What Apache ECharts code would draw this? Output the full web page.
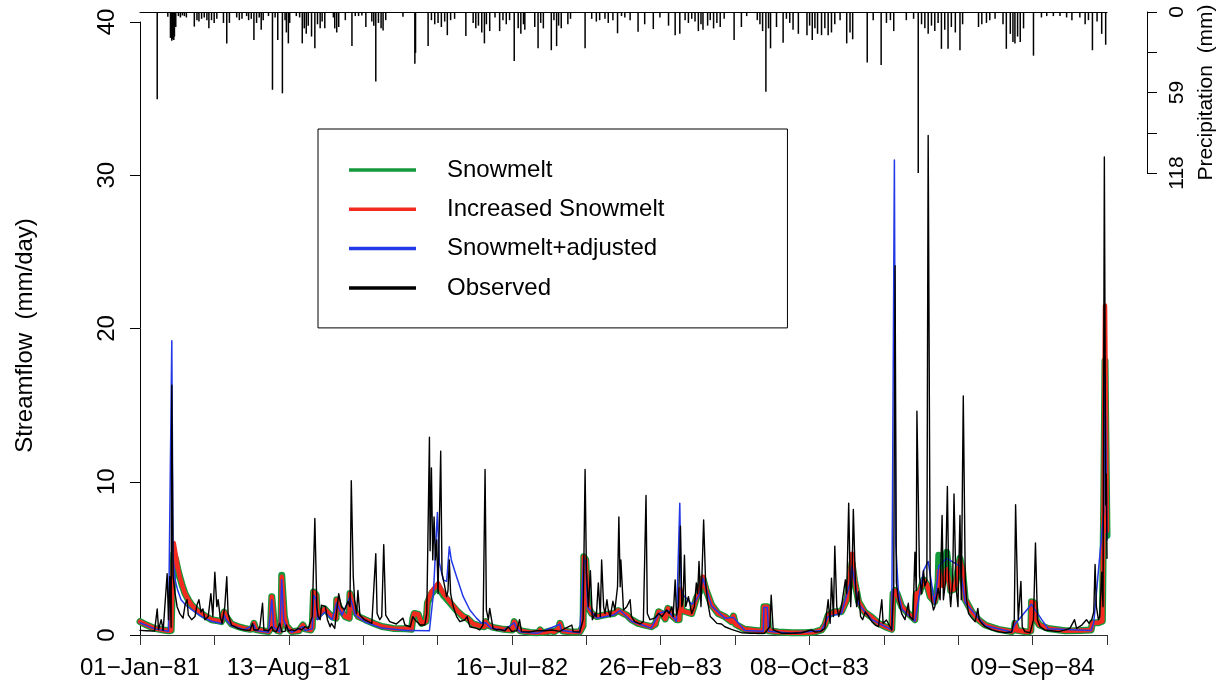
<!DOCTYPE html>
<html>
<head>
<meta charset="utf-8">
<script src="https://cdn.jsdelivr.net/npm/echarts@6/dist/echarts.min.js"></script>
<style>
  html, body { margin: 0; padding: 0; background: #fff; }
  #chart { width: 1225px; height: 687px; }
</style>
</head>
<body>
<div id="chart"></div>
<script>
// Daily streamflow, 1981-1984. x values are days since 01-Jan-1981 (0 .. 1460).
const tickLabels = ['01\u2212Jan\u221281', '', '13\u2212Aug\u221281', '', '', '16\u2212Jul\u221282', '',
  '26\u2212Feb\u221283', '', '08\u2212Oct\u221283', '', '', '09\u2212Sep\u221284', ''];

// Daily precipitation (mm), [day, mm]
const precipitation = [
  [26, 64], [42, 3.4], [46, 19], [48, 21], [49, 20], [51, 20.5], [52, 18], [54, 11], [58, 3], [61, 4],
  [64, 2.5], [67, 3], [70, 4], [82, 10.7], [86, 6], [89, 7], [93, 5], [97, 4], [101, 6], [104, 12],
  [108, 6], [112, 8], [116, 5], [126, 8], [131, 23], [135, 8], [146, 4], [150, 6], [154, 5], [161, 3],
  [164, 6], [168, 5], [172, 20.5], [176, 8], [180, 4], [183, 13], [186, 6], [194, 3], [200, 57], [204, 4],
  [208, 20.5], [215, 59.6], [219, 6], [221, 15], [224, 23], [226, 8], [236, 3], [241, 4], [245, 23], [248, 12],
  [251, 16], [254, 10], [259, 18], [264, 26.6], [268, 9], [272, 12], [275, 7], [279, 12], [292, 4], [294, 12],
  [297, 15], [300, 11], [310, 6], [320, 25], [325, 3], [330, 3], [335, 2.5], [341, 11], [350, 7], [353, 10],
  [356, 51], [360, 8], [364, 12], [367, 13.5], [371, 6], [397, 3.5], [415, 38], [416, 30], [435, 25], [440, 6],
  [445, 9], [450, 8], [455, 11], [460, 7], [464, 17], [469, 6], [475, 5], [492, 17.6], [503, 8], [507, 12],
  [511, 10], [516, 15], [520, 23], [523, 9], [528, 14], [536, 4], [543, 14], [548, 6], [553, 9], [558, 6],
  [565, 36], [571, 12], [575, 16], [579, 9], [581, 13], [596, 11], [601, 26.6], [605, 8], [609, 12], [621, 28],
  [625, 6], [629, 25], [632, 10], [636, 12], [646, 9], [650, 5], [672, 26.6], [682, 5], [689, 7], [694, 6],
  [702, 5], [707, 8], [714, 6], [721, 15.6], [727, 3], [732, 4], [740, 6], [752, 14.4], [762, 9], [775, 12.5],
  [785, 4], [798, 10], [808, 17], [815, 16], [823, 6], [828, 8], [833, 5], [838, 7], [843, 14], [847, 9],
  [850, 13], [857, 10], [861, 6], [866, 12], [871, 8], [876, 11], [882, 5], [897, 20.5], [908, 11], [916, 3],
  [932, 6], [936, 9], [940, 14], [945, 58.4], [949, 12], [952, 26.6], [961, 11], [971, 22.5], [976, 5], [981, 8],
  [986, 13], [994, 16], [1007, 17], [1011, 10], [1015, 20.5], [1019, 12], [1023, 16], [1029, 17], [1034, 12], [1039, 17],
  [1044, 15], [1049, 9], [1057, 6], [1067, 23], [1072, 15], [1076, 20], [1098, 37], [1107, 6], [1119, 38.8], [1127, 8],
  [1133, 6], [1138, 14], [1157, 6], [1168, 5], [1175, 118], [1180, 9], [1185, 12], [1190, 16], [1195, 10], [1200, 14],
  [1205, 8], [1210, 27], [1215, 13], [1220, 27], [1225, 11], [1231, 15], [1238, 28], [1242, 9], [1266, 11], [1271, 9],
  [1278, 8], [1283, 6], [1291, 5], [1303, 9], [1308, 27], [1314, 16], [1318, 22], [1321, 23], [1325, 18], [1329, 22],
  [1334, 12], [1349, 32], [1361, 4], [1369, 3], [1379, 3], [1389, 3], [1399, 4], [1407, 6], [1419, 4], [1427, 9],
  [1432, 6], [1438, 28], [1445, 7], [1452, 16], [1458, 24]
];

// Simulated streamflow (mm/day), [day, value]
const snowmelt = [
  [0, 0.87], [10, 0.65], [22, 0.43], [35, 0.32], [43, 0.28], [47, 0.3], [49, 3.3], [51, 5.3], [54, 4.9], [57, 4.3],
  [60, 3.8], [64, 3.2], [68, 2.7], [73, 2.3], [78, 1.96], [85, 1.65], [93, 1.4], [100, 1.2], [108, 1.0], [115, 0.95],
  [123, 0.87], [126, 0.9], [127, 1.5], [130, 1.2], [133, 1.1], [138, 0.72], [148, 0.55], [158, 0.43], [166, 0.37], [170, 0.4],
  [172, 0.76], [175, 0.35], [185, 0.28], [194, 0.22], [197, 0.4], [199, 2.5], [201, 2.4], [203, 0.6], [207, 0.3], [211, 0.25],
  [213, 1.0], [214, 3.9], [216, 3.8], [218, 1.2], [221, 0.6], [229, 0.22], [240, 0.28], [246, 0.65], [249, 0.4], [258, 0.33],
  [260, 0.5], [262, 2.8], [266, 2.6], [268, 1.2], [271, 1.4], [279, 1.7], [285, 1.4], [290, 1.2], [296, 1.1], [297, 2.3],
  [300, 1.9], [305, 1.5], [310, 1.2], [316, 1.1], [317, 2.7], [321, 2.0], [325, 1.5], [330, 1.2], [340, 1.0], [355, 0.72],
  [365, 0.55], [382, 0.43], [402, 0.4], [410, 0.37], [412, 1.1], [414, 1.4], [420, 1.35], [425, 0.76], [432, 0.9], [434, 2.1],
  [440, 2.7], [450, 3.2], [458, 2.6], [468, 2.1], [478, 1.6], [488, 1.2], [494, 1.1], [503, 0.72], [513, 0.6], [520, 0.54],
  [522, 0.87], [525, 0.65], [533, 0.5], [549, 0.37], [562, 0.33], [565, 0.87], [568, 0.6], [574, 0.28], [589, 0.17], [601, 0.15],
  [604, 0.33], [606, 0.17], [614, 0.2], [621, 0.28], [625, 0.2], [632, 0.4], [634, 0.76], [636, 0.5], [638, 0.26], [650, 0.2],
  [664, 0.2], [669, 0.6], [670, 5.1], [673, 4.9], [676, 2.0], [678, 1.7], [682, 1.4], [690, 1.2], [700, 1.3], [706, 1.35],
  [715, 1.4], [722, 1.6], [725, 1.7], [730, 1.4], [735, 1.3], [742, 1.0], [752, 0.76], [762, 0.65], [772, 0.54], [778, 0.7],
  [783, 1.52], [788, 1.4], [793, 1.05], [797, 1.74], [802, 1.3], [810, 1.0], [814, 1.0], [816, 2.8], [818, 1.6], [825, 1.5],
  [833, 1.4], [840, 2.4], [845, 2.8], [850, 3.7], [855, 2.9], [863, 1.96], [873, 1.4], [883, 1.2], [886, 1.3], [889, 1.0],
  [893, 0.87], [896, 1.24], [899, 0.7], [913, 0.37], [933, 0.28], [941, 0.28], [942, 1.85], [947, 1.85], [949, 0.28], [964, 0.2],
  [984, 0.15], [1004, 0.15], [1019, 0.2], [1029, 0.33], [1034, 0.65], [1039, 1.3], [1049, 1.52], [1059, 1.52], [1067, 2.3], [1072, 3.6],
  [1075, 4.7], [1079, 3.5], [1085, 2.17], [1094, 1.5], [1105, 1.15], [1115, 0.76], [1125, 0.54], [1135, 0.37], [1137, 2.7], [1140, 2.9],
  [1143, 2.7], [1150, 1.85], [1160, 1.4], [1170, 1.0], [1172, 2.7], [1177, 2.8], [1183, 3.6], [1188, 3.3], [1193, 2.5], [1200, 2.17],
  [1205, 3.4], [1206, 5.2], [1212, 3.4], [1218, 5.4], [1224, 2.9], [1230, 3.0], [1238, 5.0], [1242, 4.2], [1246, 2.3], [1256, 1.5],
  [1266, 1.0], [1276, 0.65], [1296, 0.37], [1316, 0.22], [1320, 0.35], [1321, 0.76], [1324, 0.3], [1340, 0.2], [1345, 0.25], [1346, 2.17],
  [1350, 2.1], [1353, 1.0], [1358, 0.65], [1371, 0.43], [1397, 0.28], [1420, 0.3], [1436, 0.33], [1438, 0.8], [1440, 0.9], [1447, 0.8],
  [1453, 0.9], [1455, 8.5], [1457, 17.9], [1460, 6.5]
];

const increasedSnowmelt = [
  [0, 0.87], [10, 0.65], [22, 0.43], [35, 0.32], [43, 0.28], [47, 0.3], [49, 3.5], [51, 6.0], [54, 5.2], [57, 4.4],
  [60, 3.8], [64, 3.2], [68, 2.7], [73, 2.3], [78, 1.96], [85, 1.65], [93, 1.4], [100, 1.2], [108, 1.0], [115, 0.95],
  [123, 0.87], [126, 0.9], [127, 1.5], [130, 1.2], [133, 1.1], [138, 0.72], [148, 0.55], [158, 0.43], [166, 0.37], [170, 0.4],
  [172, 0.76], [175, 0.35], [185, 0.28], [194, 0.22], [197, 0.4], [199, 2.5], [201, 2.4], [203, 0.6], [207, 0.3], [211, 0.25],
  [213, 1.0], [214, 3.8], [216, 3.7], [218, 1.2], [221, 0.6], [229, 0.22], [240, 0.28], [246, 0.65], [249, 0.4], [258, 0.33],
  [260, 0.5], [262, 2.8], [266, 2.6], [268, 1.2], [271, 1.4], [279, 1.7], [285, 1.4], [290, 1.2], [296, 1.1], [297, 2.3],
  [300, 1.9], [305, 1.5], [310, 1.2], [316, 1.1], [317, 2.7], [321, 2.0], [325, 1.5], [330, 1.2], [340, 1.0], [355, 0.72],
  [365, 0.55], [382, 0.43], [402, 0.4], [410, 0.37], [412, 1.1], [414, 1.41], [420, 1.35], [425, 0.76], [432, 0.9], [434, 2.17],
  [440, 2.83], [450, 3.37], [458, 2.7], [468, 2.17], [478, 1.63], [488, 1.2], [494, 1.1], [503, 0.72], [513, 0.6], [520, 0.54],
  [522, 0.87], [525, 0.65], [533, 0.5], [549, 0.37], [562, 0.33], [565, 0.87], [568, 0.6], [574, 0.28], [589, 0.17], [601, 0.15],
  [604, 0.33], [606, 0.17], [614, 0.2], [621, 0.28], [625, 0.2], [632, 0.4], [634, 0.76], [636, 0.5], [638, 0.26], [650, 0.2],
  [664, 0.2], [669, 0.6], [670, 5.1], [673, 4.9], [676, 2.0], [678, 1.7], [682, 1.4], [690, 1.2], [700, 1.3], [706, 1.35],
  [715, 1.4], [722, 1.6], [725, 1.7], [730, 1.4], [735, 1.3], [742, 1.0], [752, 0.76], [762, 0.65], [772, 0.54], [778, 0.7],
  [783, 1.52], [788, 1.4], [793, 1.05], [797, 1.74], [802, 1.3], [810, 1.0], [814, 1.0], [816, 3.0], [818, 1.6], [825, 1.5],
  [833, 1.4], [840, 2.4], [845, 2.8], [850, 3.8], [855, 2.9], [863, 1.96], [873, 1.4], [883, 1.2], [886, 1.3], [889, 1.0],
  [893, 0.87], [896, 1.24], [899, 0.7], [913, 0.37], [933, 0.28], [941, 0.28], [942, 1.85], [947, 1.85], [949, 0.28], [964, 0.2],
  [984, 0.15], [1004, 0.15], [1019, 0.2], [1029, 0.33], [1034, 0.65], [1039, 1.3], [1049, 1.52], [1059, 1.52], [1067, 2.3], [1072, 3.8],
  [1075, 5.3], [1079, 3.6], [1085, 2.17], [1094, 1.5], [1105, 1.15], [1115, 0.76], [1125, 0.54], [1135, 0.37], [1137, 2.7], [1140, 2.9],
  [1143, 2.7], [1150, 1.85], [1160, 1.4], [1170, 1.0], [1172, 2.7], [1177, 2.8], [1183, 3.6], [1188, 3.3], [1193, 2.5], [1200, 2.17],
  [1205, 3.0], [1206, 4.2], [1212, 3.2], [1218, 4.3], [1224, 2.9], [1230, 3.0], [1238, 4.9], [1242, 4.2], [1246, 2.3], [1256, 1.5],
  [1266, 1.0], [1276, 0.65], [1296, 0.37], [1316, 0.22], [1320, 0.35], [1321, 0.76], [1324, 0.3], [1340, 0.2], [1345, 0.25], [1346, 2.17],
  [1350, 2.1], [1353, 1.0], [1358, 0.65], [1371, 0.43], [1397, 0.28], [1420, 0.3], [1436, 0.33], [1438, 0.8], [1440, 0.9], [1447, 0.8],
  [1453, 0.9], [1455, 10], [1457, 21.5], [1460, 6.8]
];

const snowmeltAdjusted = [
  [0, 0.8], [22, 0.4], [43, 0.25], [46, 0.3], [48, 19.2], [50, 5.0], [53, 3.6], [57, 2.9], [62, 2.3], [68, 2.0],
  [78, 1.65], [93, 1.2], [108, 0.9], [123, 0.75], [127, 1.3], [130, 1.0], [138, 0.6], [158, 0.35], [172, 0.65], [175, 0.3],
  [194, 0.18], [199, 2.3], [202, 0.5], [211, 0.2], [214, 3.6], [217, 1.0], [221, 0.5], [229, 0.18], [246, 0.55], [249, 0.3],
  [260, 0.4], [262, 2.6], [266, 2.3], [268, 1.0], [279, 1.5], [290, 1.0], [297, 2.1], [305, 1.3], [317, 2.5], [325, 1.3],
  [340, 0.85], [365, 0.45], [402, 0.3], [412, 0.3], [437, 0.28], [443, 2.7], [449, 8.0], [452, 4.7], [458, 3.6], [463, 3.5],
  [467, 5.76], [470, 4.9], [478, 3.8], [488, 2.5], [498, 1.63], [508, 1.1], [516, 0.76], [522, 0.8], [530, 0.45], [549, 0.3],
  [565, 0.8], [568, 0.5], [574, 0.2], [601, 0.12], [634, 0.7], [636, 0.3], [664, 0.15], [670, 5.0], [673, 4.7], [676, 1.8],
  [690, 1.1], [715, 1.3], [725, 1.6], [742, 0.9], [772, 0.45], [783, 1.4], [797, 1.6], [810, 0.9], [815, 8.6], [817, 3.0],
  [820, 2.6], [825, 2.4], [833, 2.0], [840, 2.3], [845, 2.7], [850, 3.7], [863, 1.9], [883, 1.1], [896, 1.15], [913, 0.3],
  [941, 0.25], [942, 1.8], [947, 1.8], [949, 0.25], [984, 0.12], [1029, 0.3], [1039, 1.2], [1059, 1.4], [1072, 3.4], [1075, 4.5],
  [1085, 2.0], [1105, 1.0], [1135, 0.33], [1139, 31.0], [1141, 6.0], [1145, 2.8], [1150, 1.7], [1170, 0.9], [1183, 4.2], [1190, 4.8],
  [1200, 2.0], [1206, 4.5], [1218, 5.0], [1238, 4.5], [1246, 2.1], [1276, 0.6], [1316, 0.2], [1321, 0.7], [1346, 2.0], [1371, 0.4],
  [1436, 0.3], [1440, 0.8], [1455, 8], [1457, 17], [1460, 6.2]
];

// Observed streamflow (mm/day), [day, value]
const observed = [
  [0, 0.3], [10, 0.28], [22, 0.25], [26, 1.7], [28, 0.35], [32, 1.0], [35, 0.3], [41, 4.0], [43, 1.0], [45, 3.8],
  [47, 0.5], [48, 16.3], [50, 3.8], [53, 2.7], [56, 1.85], [60, 1.4], [65, 1.1], [68, 1.95], [71, 2.3], [73, 1.3],
  [78, 1.0], [83, 1.2], [86, 1.95], [89, 2.3], [92, 1.5], [95, 1.7], [98, 1.0], [103, 1.2], [107, 2.7], [110, 1.2],
  [113, 4.1], [116, 1.85], [118, 2.3], [121, 1.2], [124, 0.76], [128, 1.85], [131, 3.8], [133, 1.4], [138, 0.65], [143, 0.54],
  [148, 0.43], [153, 0.37], [158, 0.33], [166, 0.3], [170, 0.76], [172, 0.33], [178, 0.33], [181, 0.54], [185, 2.07], [187, 0.33],
  [194, 0.28], [199, 0.54], [201, 0.28], [206, 0.22], [211, 0.76], [214, 0.22], [219, 0.24], [221, 0.65], [224, 0.26], [229, 0.33],
  [234, 0.28], [239, 0.43], [244, 0.33], [249, 0.54], [254, 0.43], [260, 1.2], [264, 7.6], [267, 1.85], [269, 1.2], [272, 1.0],
  [274, 1.95], [277, 2.07], [280, 1.85], [283, 1.0], [287, 0.54], [289, 0.76], [294, 0.43], [297, 0.54], [300, 2.7], [304, 1.85],
  [309, 1.63], [314, 2.2], [317, 1.85], [319, 10.07], [322, 3.8], [324, 2.3], [327, 1.4], [329, 2.9], [332, 1.3], [334, 1.2],
  [339, 1.0], [345, 0.87], [350, 0.76], [356, 5.3], [358, 1.4], [362, 1.0], [365, 1.2], [368, 5.9], [371, 1.3], [377, 0.87],
  [387, 0.72], [397, 1.1], [400, 0.65], [408, 0.54], [412, 1.2], [415, 1.0], [423, 0.65], [430, 0.65], [433, 1.4], [437, 12.9],
  [438, 5.5], [440, 10.9], [442, 4.9], [444, 7.7], [446, 4.9], [448, 6.2], [450, 2.7], [454, 12.0], [456, 4.0], [459, 3.4],
  [463, 2.5], [465, 2.9], [467, 4.9], [469, 2.7], [473, 1.85], [478, 1.2], [483, 0.87], [490, 0.98], [494, 1.2], [498, 0.54],
  [508, 0.43], [513, 0.33], [518, 0.65], [521, 10.8], [523, 1.63], [526, 1.0], [528, 1.74], [531, 1.67], [533, 0.43], [538, 0.33],
  [543, 0.37], [551, 0.28], [556, 0.54], [561, 0.24], [569, 0.28], [573, 1.0], [576, 0.22], [589, 0.2], [599, 0.28], [611, 0.28],
  [622, 0.33], [634, 0.24], [642, 0.43], [652, 0.65], [654, 0.22], [664, 0.2], [669, 1.0], [672, 10.8], [674, 4.2], [677, 1.85],
  [680, 4.2], [683, 1.0], [687, 1.4], [689, 1.2], [692, 3.4], [695, 1.2], [697, 4.9], [700, 1.85], [702, 1.4], [705, 2.3],
  [707, 1.63], [710, 1.2], [714, 2.2], [717, 1.63], [721, 3.15], [723, 7.7], [725, 3.15], [726, 4.9], [730, 1.63], [735, 1.85],
  [740, 2.3], [742, 1.2], [747, 0.87], [755, 0.72], [760, 0.87], [764, 9.1], [766, 1.4], [770, 1.0], [777, 1.1], [783, 1.4],
  [788, 1.2], [795, 1.63], [799, 1.4], [803, 1.85], [805, 1.2], [808, 3.6], [810, 1.3], [813, 1.85], [816, 7.1], [818, 1.85],
  [820, 2.3], [822, 5.2], [824, 1.85], [828, 2.5], [831, 1.85], [833, 1.4], [837, 1.85], [840, 3.4], [842, 2.7], [844, 4.8],
  [847, 1.85], [851, 7.5], [854, 3.4], [857, 2.17], [861, 1.2], [866, 1.0], [871, 0.76], [878, 0.72], [883, 0.54], [893, 0.37],
  [908, 0.15], [923, 0.11], [943, 0.11], [951, 0.54], [953, 2.6], [956, 0.33], [969, 0.11], [984, 0.11], [999, 0.15], [1014, 0.33],
  [1019, 0.2], [1027, 0.22], [1034, 0.43], [1039, 2.3], [1042, 0.76], [1044, 3.7], [1047, 1.2], [1049, 5.8], [1052, 1.85], [1055, 1.2],
  [1059, 1.85], [1065, 3.6], [1067, 2.7], [1070, 8.6], [1073, 1.85], [1075, 3.8], [1077, 8.2], [1080, 3.6], [1082, 1.85], [1085, 2.83],
  [1088, 1.2], [1091, 1.0], [1095, 1.5], [1100, 1.2], [1105, 0.87], [1110, 0.65], [1115, 0.54], [1120, 2.3], [1122, 0.76], [1127, 0.98],
  [1131, 0.65], [1135, 0.33], [1138, 3.15], [1140, 24.1], [1142, 3.4], [1145, 2.3], [1150, 1.4], [1155, 1.0], [1160, 2.07], [1162, 1.2],
  [1167, 1.0], [1170, 5.4], [1172, 2.9], [1173, 14.6], [1177, 3.8], [1180, 2.7], [1183, 4.2], [1185, 3.2], [1188, 3.6], [1190, 32.6],
  [1193, 3.8], [1195, 2.3], [1198, 1.63], [1200, 1.85], [1205, 3.05], [1208, 2.3], [1211, 7.8], [1213, 2.3], [1216, 3.4], [1219, 9.7],
  [1221, 3.6], [1224, 1.85], [1227, 3.6], [1229, 9.2], [1232, 3.15], [1235, 1.85], [1238, 7.8], [1240, 2.3], [1243, 15.6], [1246, 3.6],
  [1248, 2.3], [1251, 1.4], [1256, 1.1], [1261, 0.87], [1265, 1.74], [1267, 1.0], [1271, 0.76], [1276, 0.54], [1286, 0.33], [1296, 0.22],
  [1306, 0.15], [1316, 0.2], [1320, 1.0], [1322, 8.5], [1324, 4.6], [1326, 1.0], [1330, 3.5], [1332, 0.54], [1336, 0.22], [1344, 0.15],
  [1349, 1.0], [1352, 6.0], [1355, 1.0], [1359, 0.54], [1366, 0.33], [1376, 0.28], [1387, 0.22], [1397, 0.33], [1404, 0.43], [1411, 1.0],
  [1414, 0.43], [1422, 0.65], [1429, 1.0], [1433, 0.76], [1437, 1.0], [1440, 1.5], [1442, 4.6], [1444, 1.85], [1447, 1.0], [1449, 1.2],
  [1452, 4.1], [1454, 1.85], [1456, 31.2], [1458, 8.5], [1459, 10.5], [1460, 5.0]
];

const FONT = '"Liberation Sans", Arial, Helvetica, sans-serif';
const DAY_MAX = 1460;
const TICK_STEP = DAY_MAX / 13;

const chart = echarts.init(document.getElementById('chart'), null, { renderer: 'canvas' });

const lineSeries = (name, data, color, width) => ({
  name, type: 'line', data, xAxisIndex: 0, yAxisIndex: 0,
  showSymbol: false, symbol: 'none', smooth: false, clip: true,
  lineStyle: { color, width, join: 'round', cap: 'round' },
  itemStyle: { color },
  emphasis: { disabled: true }, silent: true
});

chart.setOption({
  animation: false,
  backgroundColor: '#fff',
  textStyle: { fontFamily: FONT, color: '#000' },
  grid: [
    { left: 140, right: 118, top: 22, bottom: 52 },
    { left: 140, right: 118, top: 12, height: 161 }
  ],
  legend: {
    left: 318, top: 129, orient: 'vertical',
    padding: [29, 123, 28, 31],
    borderColor: '#000', borderWidth: 1,
    itemWidth: 67, itemHeight: 3.5, itemGap: 15.3,
    selectedMode: false,
    icon: 'rect',
    textStyle: { fontFamily: FONT, fontSize: 24, color: '#000', padding: [0, 0, 0, 26] },
    data: ['Snowmelt', 'Increased Snowmelt', 'Snowmelt+adjusted', 'Observed']
  },
  xAxis: [
    {
      type: 'value', gridIndex: 0, min: 0, max: DAY_MAX, interval: TICK_STEP,
      axisLine: { show: true, onZero: false, lineStyle: { color: '#333', width: 1 } },
      axisTick: { show: true, length: 10, lineStyle: { color: '#333', width: 1 } },
      axisLabel: {
        show: true, margin: 21, fontSize: 24, fontFamily: FONT, color: '#000',
        showMinLabel: true, showMaxLabel: true,
        formatter: v => tickLabels[Math.round(v / TICK_STEP)] || ''
      },
      splitLine: { show: false }
    },
    {
      type: 'value', gridIndex: 1, min: 0, max: DAY_MAX, position: 'top',
      axisLine: { show: true, onZero: false, lineStyle: { color: '#000', width: 1 } },
      axisTick: { show: false }, axisLabel: { show: false }, splitLine: { show: false }
    }
  ],
  yAxis: [
    {
      type: 'value', gridIndex: 0, min: 0, max: 40, interval: 10,
      name: 'Streamflow  (mm/day)', nameLocation: 'middle', nameGap: 103,
      nameTextStyle: { fontSize: 24, fontFamily: FONT, color: '#000', padding: [0, 14, 0, 0] },
      axisLine: { show: true, onZero: false, lineStyle: { color: '#000', width: 1 } },
      axisTick: { show: true, length: 10, lineStyle: { color: '#000', width: 1 } },
      axisLabel: { rotate: 90, margin: 21, fontSize: 24, fontFamily: FONT, color: '#000' },
      splitLine: { show: false }
    },
    {
      type: 'value', gridIndex: 1, min: 0, max: 118, interval: 29.5, inverse: true,
      position: 'right', offset: 40,
      name: 'Precipitation  (mm)', nameLocation: 'middle', nameGap: 42, nameRotate: 90,
      nameTextStyle: { fontSize: 21, fontFamily: FONT, color: '#000' },
      axisLine: { show: true, onZero: false, lineStyle: { color: '#000', width: 1 } },
      axisTick: { show: true, length: 10, lineStyle: { color: '#000', width: 1 } },
      axisLabel: {
        rotate: 90, margin: 20, fontSize: 21, fontFamily: FONT, color: '#000',
        formatter: v => (Math.abs(v % 59) < 1e-6 ? String(v) : '')
      },
      splitLine: { show: false }
    }
  ],
  series: [
    {
      name: 'Precipitation', type: 'bar', xAxisIndex: 1, yAxisIndex: 1,
      data: precipitation, barWidth: 1.5, silent: true,
      itemStyle: { color: '#000' }
    },
    lineSeries('Snowmelt', snowmelt, '#14993c', 7),
    lineSeries('Increased Snowmelt', increasedSnowmelt, '#f22a1f', 4.5),
    lineSeries('Snowmelt+adjusted', snowmeltAdjusted, '#2338e6', 1.5),
    lineSeries('Observed', observed, '#000000', 1.4)
  ]
});
</script>
</body>
</html>
